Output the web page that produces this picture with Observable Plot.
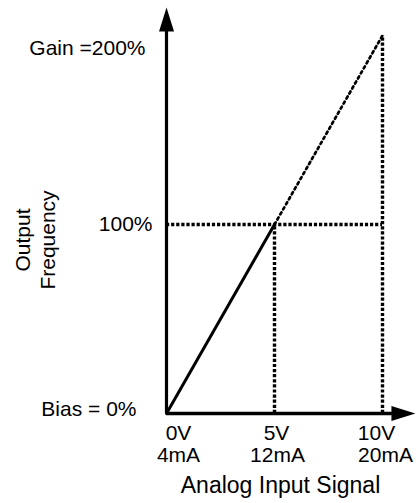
<!DOCTYPE html>
<html>
<head>
<meta charset="utf-8">
<script src="https://cdn.jsdelivr.net/npm/d3@7"></script>
<script src="https://cdn.jsdelivr.net/npm/@observablehq/plot@0.6"></script>
<style>
  html, body { margin: 0; padding: 0; background: #fff; }
  #chart svg { display: block; }
</style>
</head>
<body>
<div id="chart"></div>
<script>
// Input signal (V) and output frequency (%) at the three reference points
const inputV = [0, 5, 10];
const outputPct = [0, 100, 200];
const voltLabels = ["0V", "5V", "10V"];
const currentLabels = ["4mA", "12mA", "20mA"];
const levelLabels = ["Bias = 0%", "100%", "Gain =200%"];
const xTitle = "Analog Input Signal";
const yTitle = "Output\nFrequency";
// axis extents (where the arrowheads sit)
const xAxisEnd = 10.46;
const yAxisEnd = 202.6;

const font = "'Liberation Sans', Arial, Helvetica, sans-serif";
const pts = inputV.map((v, i) => ({v, p: outputPct[i]}));

const arrowHead = {
  draw(ctx) {
    ctx.moveTo(0, -23);
    ctx.lineTo(7.5, 1);
    ctx.lineTo(-7.5, 1);
    ctx.closePath();
  }
};

function lbl(text, x, y, o) {
  return Plot.text([text], {x: () => x, y: () => y, text: d => d, fill: "#000",
    fontSize: 21, fontFamily: font, ...o});
}

const chart = Plot.plot({
  width: 417,
  height: 503,
  margin: 0,
  style: {fontFamily: font, background: "#fff"},
  x: {domain: [0, 10], range: [166, 382], axis: null},
  y: {domain: [0, 200], range: [413, 35], axis: null},
  marks: [
    // reference dotted guides
    Plot.ruleY([outputPct[1]], {x1: inputV[0], x2: inputV[2], stroke: "#000", strokeWidth: 3.4, strokeDasharray: "3.2,1.9"}),
    Plot.ruleX([inputV[1]], {y1: outputPct[0], y2: outputPct[1], stroke: "#000", strokeWidth: 3.4, strokeDasharray: "3.2,1.9"}),
    Plot.ruleX([inputV[2]], {y1: outputPct[0], y2: outputPct[2], stroke: "#000", strokeWidth: 3.4, strokeDasharray: "3.2,1.9"}),
    // characteristic: solid up to 5V, dotted extension to 10V
    Plot.line(pts.slice(0, 2), {x: "v", y: "p", stroke: "#000", strokeWidth: 3}),
    Plot.line(pts.slice(1, 3), {x: "v", y: "p", stroke: "#000", strokeWidth: 2.7, strokeDasharray: "2.4,3.4"}),
    // axes
    Plot.ruleX([0], {y1: 0, y2: yAxisEnd, stroke: "#000", strokeWidth: 3.2}),
    Plot.ruleY([0], {x1: 0, x2: xAxisEnd, stroke: "#000", strokeWidth: 3.5}),
    Plot.dot([0], {x: () => 0, y: () => yAxisEnd, symbol: arrowHead, fill: "#000", stroke: null, r: 5}),
    Plot.dot([0], {x: () => xAxisEnd, y: () => 0, symbol: arrowHead, fill: "#000", stroke: null, r: 5, rotate: 90}),
    // level labels
    lbl(levelLabels[0], 0, outputPct[0], {textAnchor: "end", dx: -30, dy: -4}),
    lbl(levelLabels[1], 0, outputPct[1], {textAnchor: "end", dx: -14, dy: 0}),
    lbl(levelLabels[2], 0, outputPct[2], {textAnchor: "end", dx: -21, dy: 13}),
    // tick labels
    lbl(voltLabels[0], inputV[0], outputPct[0], {dx: 12, dy: 20}),
    lbl(currentLabels[0], inputV[0], outputPct[0], {dx: 12, dy: 42}),
    lbl(voltLabels[1], inputV[1], outputPct[0], {dx: 2, dy: 20}),
    lbl(currentLabels[1], inputV[1], outputPct[0], {dx: 3, dy: 42}),
    lbl(voltLabels[2], inputV[2], outputPct[0], {dx: -6, dy: 20}),
    lbl(currentLabels[2], inputV[2], outputPct[0], {dx: 3, dy: 42}),
    // axis titles
    lbl(xTitle, inputV[1], outputPct[0], {dx: 6, dy: 72, fontSize: 23}),
    Plot.text([yTitle], {frameAnchor: "left", textAnchor: "middle", text: d => d, rotate: -90, dx: 34, dy: -12,
      fontSize: 21, fontFamily: font, fill: "#000", lineHeight: 1.2})
  ]
});
document.getElementById("chart").appendChild(chart);
</script>
</body>
</html>
